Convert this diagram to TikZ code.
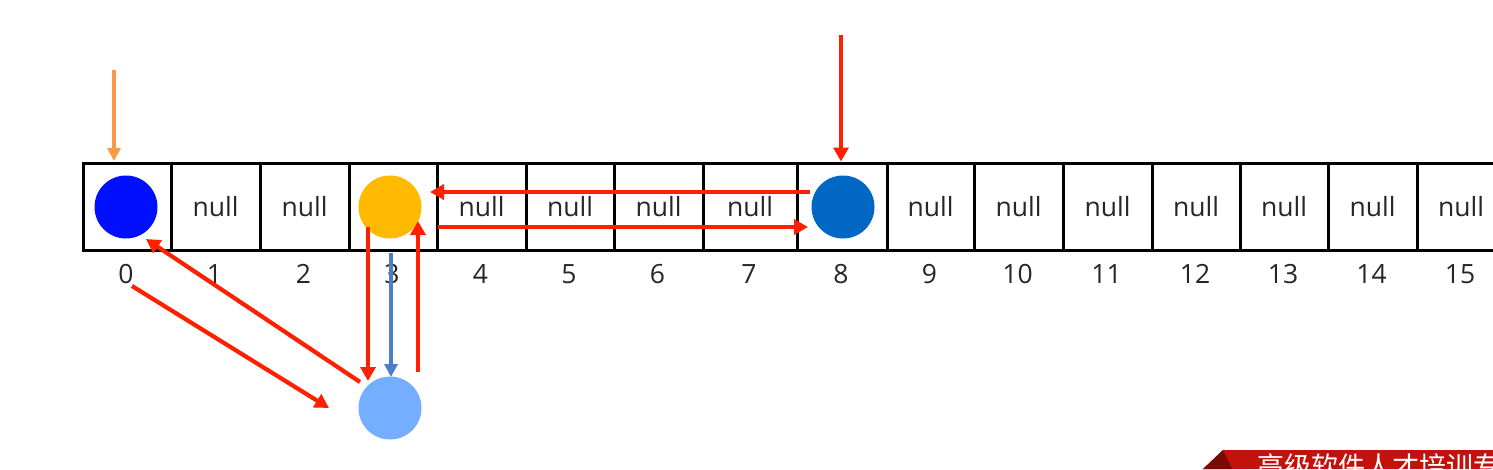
\documentclass[tikz,border=0pt]{standalone}
\usepackage{fontspec}
\setmainfont{Open Sans}
\newfontfamily\cjkfont{Noto Sans CJK SC}
\usetikzlibrary{arrows.meta}
\definecolor{redarr}{HTML}{FF2000}
\definecolor{orangearr}{HTML}{FA9A48}
\definecolor{bluearr}{HTML}{4A7EC8}
\definecolor{cblue}{HTML}{0010FF}
\definecolor{corange}{HTML}{FFBA00}
\definecolor{cdark}{HTML}{0068C4}
\definecolor{clight}{HTML}{76AEFF}
\definecolor{txt}{HTML}{262626}
\definecolor{banner}{HTML}{C3120C}
\definecolor{bannerdark}{HTML}{7A0A06}
\begin{document}
\begin{tikzpicture}[x=1pt,y=-1pt,
  cell/.style={draw=black, line width=3pt, minimum height=87pt, inner sep=0pt, font=\fontsize{26.5}{26.5}\selectfont, text=txt},
  idx/.style={inner sep=0pt, font=\fontsize{26.5}{26.5}\selectfont, text=txt},
  ball/.style={circle, inner sep=0pt, minimum size=63pt},
  redarrow/.style={draw=redarr, line width=4.2pt, -{Triangle[length=14pt,width=15pt]}},
  orarrow/.style={draw=orangearr, line width=4pt, -{Triangle[length=13pt,width=13pt]}},
  blarrow/.style={draw=bluearr, line width=4pt, -{Triangle[length=13pt,width=13pt]}}]
\useasboundingbox (0,0) rectangle (1493,469);
\clip (0,0) rectangle (1493,469);
% cells
\foreach \a/\b/\t [count=\i from 0] in {83/171/,171/260/null,260/349/null,349/437/,437/526/null,526/614/null,614/703/null,703/797/null,797/887/,887/974/null,974/1063/null,1063/1152/null,1152/1240/null,1240/1328/null,1328/1417/null,1417/1505/null}{
  \node[cell, minimum width={(\b-\a)*1pt}] (c\i) at ({(\a+\b)/2},206.5) {\t};
  \pgfmathtruncatemacro{\k}{\i}
  \node[idx] (l\i) at ({(\a+\b)/2-1},274) {\k};
}
% circles
\node[ball, fill=cblue] (k0) at (126,207) {};
\node[ball, fill=corange] (k3) at (390,207) {};
\node[ball, fill=cdark] (k8) at (843,207) {};
\node[ball, fill=clight] (k16) at (390,408) {};
% arrow end points
\coordinate (oa) at (114,70);
\coordinate (ob) at (114,161);
\coordinate (ta) at (841,35);
\coordinate (ha) at (810,192);
\coordinate (hb) at (430,192);
\coordinate (hc) at (438,227);
\coordinate (hd) at (808,227);
\coordinate (va) at (368,227);
\coordinate (vb) at (368,381);
\coordinate (wa) at (391,253);
\coordinate (wb) at (391,377);
\coordinate (ua) at (418,372);
\coordinate (ub) at (418,221);
\coordinate (da) at (360,382);
\coordinate (db) at (146,239);
\coordinate (ea) at (132,286);
\coordinate (eb) at (329,408);
% arrows
\draw[orarrow] (oa) -- (ob);
\draw[redarrow] (ta) -- (ta |- c8.north);
\draw[redarrow] (ha) -- (hb);
\draw[redarrow] (hc) -- (hd);
\draw[redarrow] (va) -- (vb);
\draw[blarrow] (wa) -- (wb);
\draw[redarrow] (ua) -- (ub);
\draw[redarrow] (da) -- (db);
\draw[redarrow] (ea) -- (eb);
% banner
\fill[banner] (1203,469) -- (1223,450) -- (1500,450) -- (1500,469) -- cycle;
\fill[bannerdark] (1203,469) -- (1223,450) -- (1232,469) -- cycle;
\node[anchor=base west, inner sep=0pt, text=white, font=\cjkfont\fontsize{27}{27}\selectfont] (bt) at (1257,476) {高级软件人才培训专};
\end{tikzpicture}
\end{document}
